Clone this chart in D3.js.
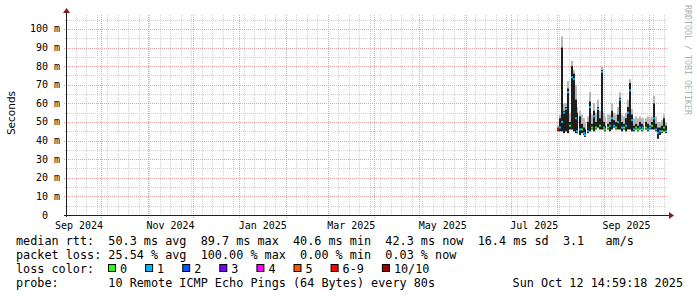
<!DOCTYPE html>
<html>
<head>
<meta charset="utf-8">
<script src="https://cdn.jsdelivr.net/npm/d3@7"></script>
<style>
  body { margin: 0; background: #fff; }
  svg text { font-family: "DejaVu Sans Mono", monospace; white-space: pre; }
</style>
</head>
<body>
<div id="container"></div>
<script>
// ---- data (ms) ----
const startTime = "2025-07-31T16:00:00Z";   // first sample
const stepHours = 32;                        // one sample per 2 px
const smokeLo  = [45,45,45,44,45,44,46,46,45,44,44,43,44,43,42,44,45,46,45,46,47,46,46,46,45,46,45,46,47,46,46,46,45,46,45,46,46,45,45,46,45,46,45,46,46,45,46,46,46,45,41,43,44,45,44];
const smokeHi  = [47,52,90,56,58,68,50,80,76,62,55,53,49,47,46,50,61,49,56,50,58,52,78,50,48,49,50,56,51,50,54,63,50,49,52,58,71,54,48,49,48,50,49,48,50,49,48,50,60,49,47,47,48,52,48];
const smokeTop = [48,54,96,60,60,72,55,83,78,70,58,56,54,52,50,53,66,54,60,55,62,56,80,55,53,54,54,60,55,54,58,66,54,53,55,62,73,57,52,53,52,53,52,52,52,53,52,53,64,53,50,50,51,54,50];
const median   = [46,47,50,55,57,66,48,74,73,52,45,46,46,44,43,45,58,47,53,47,57,48,77,47,46,47,48,52,48,47,50,62,47,47,48,55,67,51,46,47,46,47,46,47,47,46,47,48,52,46,44,45,45,47,45];
const lossIdx  = [6,1,1,1,1,1,0,1,1,1,1,1,0,1,1,1,1,0,1,0,1,0,1,1,0,0,1,1,1,0,1,1,1,0,1,1,1,1,1,0,0,1,0,1,0,1,1,0,1,1,1,1,0,0,1];

const lossLabels = ["0", "1", "2", "3", "4", "5", "6-9", "10/10"];
const lossColors = ["#26ff00", "#00b8ff", "#0059ff", "#7e00ff", "#ff00ff", "#ff5500", "#ff0000", "#a10000"];

const yTicks = [0, 10, 20, 30, 40, 50, 60, 70, 80, 90, 100];
const monthLabels = ["2024-09", "2024-11", "2025-01", "2025-03", "2025-05", "2025-07", "2025-09"];

const legendRows = [
  "median rtt:  50.3 ms avg  89.7 ms max  40.6 ms min  42.3 ms now  16.4 ms sd  3.1   am/s",
  "packet loss: 25.54 % avg  100.00 % max  0.00 % min  0.03 % now"
];
const probeText = "probe:       10 Remote ICMP Echo Pings (64 Bytes) every 80s";
const stampText = "Sun Oct 12 14:59:18 2025";

// ---- layout ----
const W = 697, H = 297;
const pLeft = 67, pRight = 667, pTop = 15, pBottom = 215;

const svg = d3.select("#container").append("svg")
  .attr("width", W).attr("height", H)
  .style("display", "block");

svg.append("rect").attr("width", W).attr("height", H).attr("fill", "#fff");

const x = d3.scaleUtc()
  .domain([new Date("2024-09-08T00:00:00Z"), new Date("2025-10-13T00:00:00Z")])
  .range([pLeft, pRight]);
const y = d3.scaleLinear().domain([0, 107.5]).range([pBottom, pTop]);

const px = v => Math.floor(x(v)) + 0.5;
const py = v => Math.round(y(v)) + 0.5;

const minorCol = "#d2d2d2", majorCol = "#e8a4a4";
const grid = svg.append("g");

// vertical minor (weeks) and major (months)
const [t0, t1] = x.domain();
grid.selectAll(".vmin").data(d3.utcSaturday.range(t0, t1)).enter().append("line")
  .attr("x1", px).attr("x2", px).attr("y1", pTop).attr("y2", pBottom + 2)
  .attr("stroke", minorCol).attr("stroke-dasharray", "1,1");
// horizontal minor
grid.selectAll(".hmin").data(d3.range(5, 107, 10)).enter().append("line")
  .attr("x1", pLeft - 2).attr("x2", pRight).attr("y1", py).attr("y2", py)
  .attr("stroke", minorCol).attr("stroke-dasharray", "1,1");
grid.selectAll(".vmaj").data(d3.utcMonth.range(t0, t1)).enter().append("line")
  .attr("x1", px).attr("x2", px).attr("y1", pTop).attr("y2", pBottom + 3)
  .attr("stroke", majorCol).attr("stroke-dasharray", "1,1");
grid.selectAll(".hmaj").data(yTicks.filter(d => d > 0)).enter().append("line")
  .attr("x1", pLeft - 3).attr("x2", pRight).attr("y1", py).attr("y2", py)
  .attr("stroke", majorCol).attr("stroke-dasharray", "1,1");

// ---- smoke and median ----
const times = median.map((d, i) => new Date(Date.parse(startTime) + i * stepHours * 3600e3));
const bw = 2;
const marks = svg.append("g");

marks.selectAll(".smoke").data(times).enter().append("rect")
  .attr("x", d => Math.floor(x(d)))
  .attr("width", bw)
  .attr("y", (d, i) => y(smokeTop[i]))
  .attr("height", (d, i) => y(smokeLo[i]) - y(smokeTop[i]))
  .attr("fill", "#b8b8b8");

marks.selectAll(".core").data(times).enter().append("rect")
  .attr("x", d => Math.floor(x(d)))
  .attr("width", bw)
  .attr("y", (d, i) => y(smokeHi[i]))
  .attr("height", (d, i) => y(smokeLo[i]) - y(smokeHi[i]))
  .attr("fill", "#1e1e1e");

marks.selectAll(".med").data(times).enter().append("rect")
  .attr("x", d => Math.floor(x(d)))
  .attr("width", bw)
  .attr("y", (d, i) => y(median[i]) - 1)
  .attr("height", 2)
  .attr("fill", (d, i) => lossColors[lossIdx[i]]);

// ---- axes ----
svg.append("line").attr("x1", pLeft - 3).attr("x2", pRight + 3)
  .attr("y1", pBottom + 0.5).attr("y2", pBottom + 0.5)
  .attr("stroke", "#1f1f1f");
svg.append("line").attr("x1", pLeft - 0.5).attr("x2", pLeft - 0.5)
  .attr("y1", pBottom + 2).attr("y2", pTop - 3)
  .attr("stroke", "#1f1f1f");
svg.append("path").attr("d", `M${pRight + 2},${pBottom - 3}L${pRight + 2},${pBottom + 4}L${pRight + 7},${pBottom + 0.5}Z`)
  .attr("fill", "#7f1f1f");
svg.append("path").attr("d", `M${pLeft - 4},${pTop - 2}L${pLeft + 3},${pTop - 2}L${pLeft - 0.5},${pTop - 7}Z`)
  .attr("fill", "#7f1f1f");

// y labels
svg.selectAll(".ylab").data(yTicks).enter().append("text")
  .attr("x", 60).attr("y", d => y(d) + 3.5)
  .attr("text-anchor", "end")
  .attr("font-size", "10px")
  .attr("fill", "#000")
  .text(d => d === 0 ? "0  " : d + " m");

// x labels, centred in their month
const fmt = d3.utcFormat("%b %Y");
svg.selectAll(".xlab").data(monthLabels).enter().append("text")
  .attr("x", d => {
    const m = new Date(d + "-01T00:00:00Z");
    return (x(m) + x(d3.utcMonth.offset(m, 1))) / 2;
  })
  .attr("y", 229)
  .attr("text-anchor", "middle")
  .attr("font-size", "10px")
  .text(d => fmt(new Date(d + "-01T00:00:00Z")));

// y title
svg.append("text")
  .attr("transform", "translate(15,113) rotate(-90)")
  .attr("text-anchor", "middle")
  .style("font-family", "'DejaVu Sans', sans-serif")
  .attr("font-size", "10.5px")
  .text("Seconds");

// watermark
svg.append("text")
  .attr("transform", "translate(685,5) rotate(90)")
  .attr("font-size", "8.3px")
  .attr("fill", "#b0b0b0")
  .text("RRDTOOL / TOBI OETIKER");

// ---- legend ----
const lf = "11.8px";
legendRows.forEach((row, i) => {
  svg.append("text").attr("x", 16).attr("y", 245 + i * 14)
    .attr("font-size", lf).text(row);
});
svg.append("text").attr("x", 16).attr("y", 273).attr("font-size", lf).text("loss color:");

let bx = 108;
lossLabels.forEach((lab, i) => {
  svg.append("rect").attr("x", bx + 0.5).attr("y", 264.5).attr("width", 7).attr("height", 7)
    .attr("fill", lossColors[i]).attr("stroke", "#000");
  svg.append("text").attr("x", bx + 12).attr("y", 273).attr("font-size", lf).text(lab);
  bx += 12 + lab.length * 7.1 + 18;
});

svg.append("text").attr("x", 16).attr("y", 287).attr("font-size", lf).text(probeText);
svg.append("text").attr("x", 683).attr("y", 287).attr("text-anchor", "end")
  .attr("font-size", lf).text(stampText);
</script>
</body>
</html>
